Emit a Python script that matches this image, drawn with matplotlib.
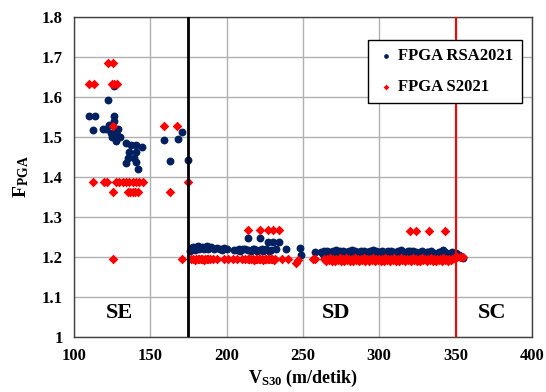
import matplotlib
matplotlib.use("Agg")
import matplotlib.pyplot as plt

plt.rcParams['font.family'] = ['Liberation Serif', 'DejaVu Serif']
plt.rcParams['font.weight'] = 'bold'
plt.rcParams['mathtext.fontset'] = 'custom'
plt.rcParams['mathtext.rm'] = 'Liberation Serif:bold'
plt.rcParams['mathtext.it'] = 'Liberation Serif:bold'
plt.rcParams['mathtext.bf'] = 'Liberation Serif:bold'

# ---- data: FPGA RSA2021 (blue circles), (Vs30, Fpga)
rsa_se = [(110, 1.553), (113.8, 1.553), (112.6, 1.517), (118.8, 1.520), (121, 1.520),
          (122.5, 1.592), (126.4, 1.627), (126, 1.552), (123, 1.530), (124.5, 1.510),
          (125, 1.500), (126.5, 1.540), (127, 1.515), (128, 1.505), (129, 1.520),
          (127.5, 1.490), (130, 1.500), (134, 1.485), (137.3, 1.480), (140.6, 1.480),
          (144.5, 1.475), (136.2, 1.463), (140.6, 1.463), (135.2, 1.447), (139.5, 1.447),
          (134, 1.434), (140.6, 1.438), (142.1, 1.419), (158.9, 1.492), (167.9, 1.494),
          (170.9, 1.513), (162.9, 1.441), (174.9, 1.4425)]
rsa_sd = [(176, 1.216), (177, 1.222), (178, 1.225), (179, 1.218), (180, 1.224), (181, 1.227),
          (182, 1.220), (183, 1.223), (184, 1.226), (185, 1.219), (186, 1.225), (187, 1.228),
          (188, 1.221), (190, 1.224), (192, 1.220), (194, 1.223), (196, 1.221), (197, 1.218),
          (198, 1.222), (200, 1.219), (205, 1.217), (207, 1.218), (208, 1.220), (209, 1.216),
          (211, 1.219), (212, 1.221), (214.2, 1.247), (214, 1.218), (216, 1.215), (217, 1.219),
          (218, 1.221), (219, 1.217), (220, 1.214), (221.8, 1.247), (222, 1.218), (223, 1.220),
          (224, 1.216), (226, 1.219), (227.3, 1.238), (228, 1.214), (229, 1.218),
          (230.5, 1.238), (232.7, 1.219), (234.3, 1.238), (238.8, 1.219), (248, 1.222),
          (249, 1.205), (257.8, 1.213),
          (262, 1.212), (263, 1.208), (264, 1.214), (265, 1.210), (266, 1.216), (267, 1.211),
          (268, 1.213), (269, 1.209), (270, 1.215), (271, 1.212), (272, 1.217), (273, 1.210),
          (274, 1.214), (275, 1.211), (276, 1.216), (277, 1.213), (278, 1.213), (279, 1.209),
          (280, 1.215), (281, 1.212), (282, 1.217), (283, 1.211), (284, 1.214), (285, 1.210),
          (286, 1.212), (287, 1.208), (288, 1.216), (289, 1.213), (290, 1.214), (291, 1.210),
          (292, 1.213), (293, 1.211), (294, 1.215), (295, 1.209), (296, 1.217), (297, 1.212),
          (298, 1.214), (299, 1.210), (300, 1.212), (301, 1.208), (302, 1.215), (303, 1.211),
          (304, 1.213), (305, 1.210), (306, 1.216), (307, 1.212), (308, 1.214), (309, 1.209),
          (310, 1.212), (311, 1.210), (312, 1.215), (313, 1.211), (314, 1.217), (315, 1.212),
          (316, 1.213), (317, 1.209), (318, 1.211), (319, 1.214), (320, 1.214), (321, 1.210),
          (322, 1.216), (323, 1.211), (324, 1.212), (325, 1.208), (326, 1.210), (327, 1.213),
          (328, 1.214), (329, 1.207), (330, 1.208), (331, 1.212), (332, 1.212), (333, 1.209),
          (334, 1.216), (335, 1.211), (336, 1.210), (337, 1.205), (338, 1.206), (339, 1.212),
          (340, 1.213), (341, 1.210), (342, 1.217), (343, 1.212), (344, 1.210), (345, 1.206),
          (346, 1.206), (347, 1.211), (348, 1.212), (349, 1.208), (350, 1.209), (352, 1.204),
          (354.8, 1.198)]

# ---- data: FPGA S2021 (red diamonds), (Vs30, Fpga)
s_se = [(122.5, 1.684), (125.5, 1.684), (110, 1.632), (113.3, 1.632), (124.7, 1.632),
        (126.4, 1.632), (128, 1.632), (125.7, 1.527), (158.9, 1.527), (167.6, 1.527),
        (112.6, 1.388), (119.8, 1.388), (121.4, 1.388), (127.5, 1.388), (129.7, 1.388),
        (131.9, 1.388), (134, 1.388), (136.2, 1.388), (138.4, 1.388), (140.6, 1.388),
        (142.8, 1.388), (145, 1.388), (174.9, 1.388),
        (125.3, 1.362), (135.2, 1.362), (136.9, 1.362), (138.4, 1.362), (139.9, 1.362),
        (141.7, 1.362), (162.9, 1.363), (125.3, 1.195), (170.5, 1.195)]
s_sd = [(177, 1.194), (178, 1.195), (179, 1.193), (180, 1.195), (181, 1.194), (182, 1.196),
        (183, 1.194), (184, 1.195), (185, 1.193), (186, 1.195), (187, 1.194), (188, 1.196),
        (189, 1.195), (191, 1.194), (194, 1.195), (198, 1.194), (201, 1.195), (204, 1.194),
        (207, 1.195), (210, 1.194), (212, 1.195), (214, 1.194), (215, 1.196), (216, 1.194),
        (217, 1.195), (218, 1.193), (219, 1.195), (220, 1.194), (221, 1.196), (222, 1.194),
        (223, 1.195), (224, 1.193), (225, 1.195), (226, 1.194), (227, 1.196), (228, 1.195),
        (229, 1.194), (230, 1.195), (231, 1.193), (232, 1.195), (236, 1.194), (240, 1.195),
        (245.8, 1.184), (247, 1.192), (256.7, 1.195), (258, 1.194),
        (214.2, 1.2675), (221.8, 1.2675), (227.3, 1.2675), (230.5, 1.2675), (234.3, 1.2675),
        (264, 1.194), (265, 1.190), (266, 1.196), (267, 1.192), (268, 1.197), (269, 1.191),
        (270, 1.195), (271, 1.189), (272, 1.196), (273, 1.193), (274, 1.198), (275, 1.191),
        (276, 1.195), (277, 1.190), (278, 1.197), (279, 1.192), (280, 1.196), (281, 1.189),
        (282, 1.194), (283, 1.191), (284, 1.197), (285, 1.193), (286, 1.195), (287, 1.190),
        (288, 1.196), (289, 1.192), (290, 1.198), (291, 1.191), (292, 1.194), (293, 1.189),
        (294, 1.196), (295, 1.193), (296, 1.197), (297, 1.190), (298, 1.195), (299, 1.192),
        (300, 1.196), (301, 1.191), (302, 1.194), (303, 1.190), (304, 1.197), (305, 1.193),
        (306, 1.195), (307, 1.189), (308, 1.196), (309, 1.192), (310, 1.198), (311, 1.191),
        (312, 1.195), (313, 1.190), (314, 1.197), (315, 1.192), (316, 1.194), (317, 1.191),
        (318, 1.196), (319, 1.193), (320, 1.195), (321, 1.190), (322, 1.197), (323, 1.192),
        (324, 1.196), (325, 1.189), (326, 1.194), (327, 1.191), (328, 1.197), (329, 1.193),
        (330, 1.195), (331, 1.190), (332, 1.196), (333, 1.192), (334, 1.198), (335, 1.191),
        (336, 1.194), (337, 1.190), (338, 1.196), (339, 1.193), (340, 1.195), (341, 1.191),
        (342, 1.197), (343, 1.192), (344, 1.195), (345, 1.190), (346, 1.196), (347, 1.193),
        (348, 1.194), (349, 1.198), (351, 1.200), (353, 1.200), (355, 1.200),
        (320.5, 1.265), (324, 1.265), (332.7, 1.265), (343, 1.265)]

x_ticks = [100, 150, 200, 250, 300, 350, 400]
y_ticks = [1.0, 1.1, 1.2, 1.3, 1.4, 1.5, 1.6, 1.7, 1.8]
y_tick_labels = ['1', '1.1', '1.2', '1.3', '1.4', '1.5', '1.6', '1.7', '1.8']
class_bounds = [175, 350]
class_labels = [('SE', 130), ('SD', 272), ('SC', 374)]

rsa = rsa_se + rsa_sd
s21 = s_se + s_sd
rsa_v = [p[0] for p in rsa]
rsa_f = [p[1] for p in rsa]
s_v = [p[0] for p in s21]
s_f = [p[1] for p in s21]

fig = plt.figure(figsize=(5.46, 3.92), dpi=100)
ax = fig.add_axes([0.1355, 0.1403, 0.8385, 0.8163])

ax.scatter(rsa_v, rsa_f, s=32, marker='o', color='#002060', linewidths=0,
           label='FPGA RSA2021', zorder=3)
ax.scatter(s_v, s_f, s=24, marker='D', color='#ff0000', linewidths=0,
           label='FPGA S2021', zorder=4)

ax.axvline(class_bounds[0], color='black', lw=2, zorder=5)
ax.axvline(class_bounds[1], color='#ff0000', lw=1.5, zorder=5)

ax.set_xlim(100, 400)
ax.set_ylim(1.0, 1.8)
ax.set_xticks(x_ticks)
ax.set_yticks(y_ticks)
ax.set_yticklabels(y_tick_labels)
ax.tick_params(axis='both', length=0, labelsize=12)
ax.tick_params(axis='x', pad=8)
ax.tick_params(axis='y', pad=8)
for lab in ax.get_xticklabels() + ax.get_yticklabels():
    lab.set_fontweight('bold')
ax.grid(True, color='#b0b0b0', lw=1, zorder=0)
ax.set_axisbelow(True)
for sp in ax.spines.values():
    sp.set_color('#404040')
    sp.set_linewidth(1)

ax.set_xlabel(r'$\mathrm{V_{S30}}$ (m/detik)', fontsize=13, fontweight='bold', labelpad=3)
ax.set_ylabel(r'$\mathrm{F_{PGA}}$', fontsize=14, fontweight='bold', labelpad=8)

for txt, xv in class_labels:
    ax.text(xv, 1.06, txt, fontsize=16, fontweight='bold', ha='center', va='center', zorder=6)

leg = ax.legend(loc='upper right', bbox_to_anchor=(0.985, 0.94), frameon=True,
                fancybox=False, edgecolor='black', framealpha=1, fontsize=12,
                handletextpad=0.1, handlelength=1.2, borderpad=0.5, labelspacing=0.9,
                markerscale=0.6, borderaxespad=0.2)
leg.get_frame().set_linewidth(1)
for t in leg.get_texts():
    t.set_fontweight('bold')
leg.set_zorder(10)

fig.savefig('out.png', dpi=100)
